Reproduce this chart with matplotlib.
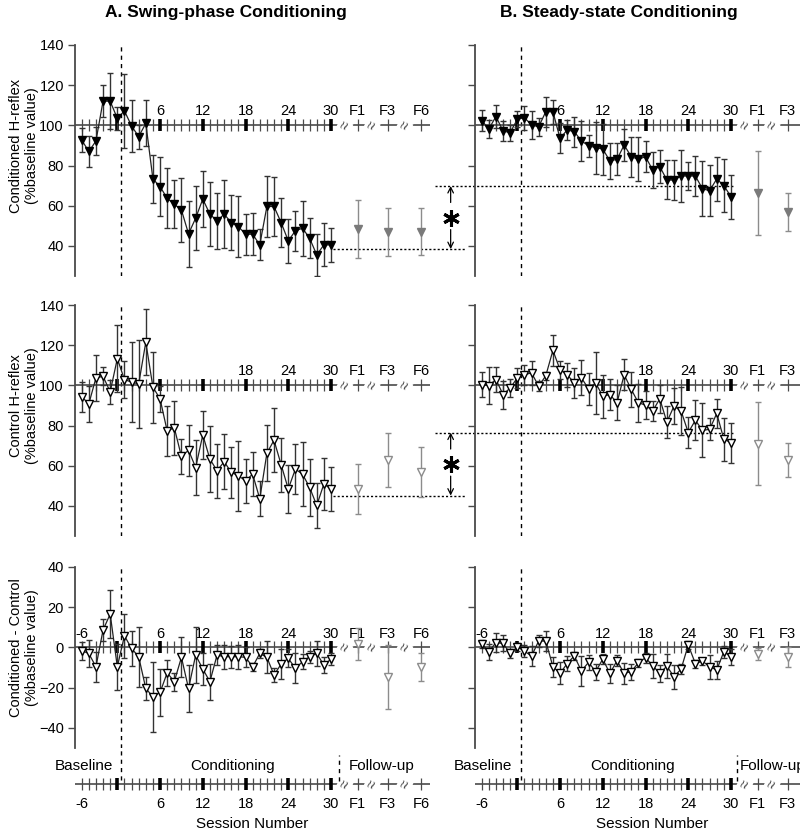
import numpy as np
import matplotlib
matplotlib.use('Agg')
import matplotlib.pyplot as plt

plt.rcParams['font.family'] = ['Liberation Sans', 'DejaVu Sans']

# session labels
base_sessions = [-6, -5, -4, -3, -2, -1]
cond_sessions = list(range(1, 31))
fu_labels = ['F1', 'F3', 'F6']

# A. swing-phase: conditioned H-reflex (% baseline), baseline + 30 sessions
a_cond_mean = [92.7, 87, 92.2, 112.1, 112, 103.5, 107.2, 99.7, 94.4, 101, 73.3, 69.5,
               63.7, 60.7, 57.9, 46, 53.8, 63.3, 55.8, 52.4, 55.8, 51.6, 49.6, 45.8,
               45.8, 40.5, 59.6, 59.6, 51.6, 42.5, 47.5, 48.8, 43.8, 35.5, 40.5, 40.5]
a_cond_err = [6, 7.5, 7, 8, 14, 5.7, 18.5, 13, 6, 11.5, 12, 14.5, 15, 12, 16, 16.5,
              16, 14, 16, 14, 17, 13.7, 15, 10.3, 10.5, 7.7, 15.3, 14.5, 12, 11, 10,
              13.7, 10, 10.5, 10.7, 8.5]
a_cond_fu = [48.5, 47.1, 47.1]
a_cond_fu_err = [14.3, 12, 11.7]

# A. control H-reflex
a_ctrl_mean = [94.3, 90.8, 103.7, 104.5, 96.8, 113.3, 102.9, 101.6, 100.7, 121.5, 99.1,
               93.3, 77.3, 78.9, 64.6, 67.7, 59.1, 75.3, 63.3, 57.5, 62, 56.7, 55, 52.5,
               55.8, 43.5, 66.2, 72.7, 60.5, 48.4, 58.3, 55.8, 49.2, 40.2, 50.9, 48.4]
a_ctrl_err = [7.5, 9, 11.6, 4.5, 6, 16.5, 9, 20, 22, 16.5, 17.6, 6.5, 12.4, 13.5, 8.5,
              12.7, 13.7, 11.8, 16.5, 13.4, 13.6, 12.8, 17.5, 11, 11, 8.7, 14, 16, 13.4,
              11.8, 12.5, 15.8, 14.2, 11, 13, 11]
a_ctrl_fu = [48.4, 62.8, 56.7]
a_ctrl_fu_err = [12.5, 13.6, 12.5]

# A. conditioned - control
a_diff_mean = [-1.6, -3, -9.6, 8.7, 16.6, -9.6, 5.8, -0.5, -4.6, -20.4, -24.5, -22.4,
               -12.6, -17, -4.9, -20.4, -3.8, -10.7, -17, -3.8, -4.6, -4.6, -4.6, -4.9,
               -9.6, -3, -4.9, -13.7, -8.3, -5.4, -10.4, -7.1, -4.6, -3, -8.8, -5.8]
a_diff_err = [4.5, 6.5, 7.5, 5.5, 12, 11.5, 10.8, 8.5, 15, 5.5, 17.5, 11.7, 6.5, 4.5,
              10, 11.6, 14, 8, 9, 5, 6, 5.5, 6, 5, 2, 2, 8, 3.7, 7.5, 4.5, 7.5, 3.7, 3,
              6, 4, 3]
a_diff_fu = [1.7, -14.6, -9.6]
a_diff_fu_err = [8, 16, 7]

# B. steady-state: conditioned H-reflex
b_cond_mean = [102.4, 98.2, 104.4, 97.2, 96.4, 103, 103.8, 100.2, 99.3, 106.8, 106.8,
               93.5, 97.7, 96.9, 92.2, 89.9, 88.9, 88.2, 82.3, 83.1, 90.2, 84.4, 83.1,
               84.4, 77.8, 79.5, 72.8, 72.8, 74.8, 74.8, 74.8, 68.4, 67.5, 73.3, 70, 64.5]
b_cond_err = [5, 4.6, 5.5, 5, 4, 4, 6, 7, 4.4, 7.5, 6, 7.5, 5, 7.5, 10, 5.5, 13, 12.7,
              9, 8, 8, 10, 11, 7.7, 9, 8, 9.7, 10, 13, 7, 10, 13.7, 12.8, 11, 13, 11]
b_cond_fu = [66.2, 56.8]
b_cond_fu_err = [21, 9.5]

# B. control H-reflex
b_ctrl_mean = [100.4, 99.9, 102.9, 95.4, 98.7, 103.7, 105.3, 106.2, 99.6, 104.8, 117.4,
               107.8, 105.3, 101.2, 103.7, 98.3, 101.2, 94.6, 95.4, 91.3, 105.3, 98,
               91.3, 90.2, 87.2, 93.3, 81.7, 89.7, 87.2, 76.5, 82.6, 77.6, 78.1, 86,
               73.2, 71.5]
b_ctrl_err = [6, 9, 6, 7, 4.3, 5, 5, 6, 2.5, 2, 7.7, 4.5, 6, 7.6, 8.7, 8, 15.3, 10.7,
              7.8, 8.7, 7.8, 8.6, 9.6, 7, 5, 7, 8, 8.9, 11.9, 7.8, 10, 13.4, 5.5, 7.4,
              10.7, 10]
b_ctrl_fu = [71, 62.8]
b_ctrl_fu_err = [20.8, 8.4]

# B. conditioned - control
b_diff_mean = [1.7, -2.1, 2.4, 2, -3, 0.3, -1.8, -4.3, 3.2, 3.2, -9.6, -12.9, -8, -4.2,
               -11.7, -7.4, -12, -5.8, -12.9, -6.6, -12.9, -12, -7.6, -5.1, -9.1, -12.9,
               -9.3, -14.6, -10.7, 1.2, -8, -6.8, -9.6, -11.2, -2.1, -4.6]
b_diff_err = [2, 4, 4.8, 4, 2, 2, 3, 5, 3, 5, 5, 5.5, 3.8, 2, 7.5, 3.7, 4, 2.5, 4.7, 2.7,
              5.2, 4, 2, 2.5, 6, 4.2, 6, 6, 2.7, 2, 2, 1.7, 6, 4.5, 3, 4]
b_diff_fu = [-3.4, -4.6]
b_diff_fu_err = [3, 5]

# significance levels (final-session level lines)
a_cond_level, b_cond_level = 38.4, 69.8
a_ctrl_level, b_ctrl_level = 45.1, 76.5

# ---- layout ----
W, H = 800, 832
X_POS = np.array([s + 1 for s in base_sessions] + cond_sessions)  # no session 0
FU_POS = [33.75, 37.96, 42.64]
BREAK_POS = [31.97, 35.8, 40.39]
XLIM_A = (-5.94, 43.9)
XLIM_B = (-5.94, 39.69)
GRAY = '#7a7a7a'
AX_COL = '#4a4a4a'

fig = plt.figure(figsize=(W / 100, H / 100), dpi=100)


def px_axes(left, top, right, bottom):
    return fig.add_axes([left / W, 1 - bottom / H, (right - left) / W, (bottom - top) / H])


def session_axis(ax, y, labels_shown, ylab_off=5, nfu=3, below=False):
    # horizontal session axis with ticks, breaks and labels
    ax.axhline(y, color=AX_COL, lw=1.2, zorder=1)
    thick = [p for p in X_POS if p % 6 == 0]
    thin = [p for p in X_POS if p % 6 != 0] + FU_POS[:nfu]
    ax.plot(thin, [y] * len(thin), ls='none', marker='|', ms=8, mew=0.9,
            color=AX_COL, zorder=1, clip_on=False)
    ax.plot(thick, [y] * len(thick), ls='none', marker='|', ms=9, mew=2.6,
            color='black', zorder=1, clip_on=False)
    for bp in BREAK_POS[:nfu]:
        ax.text(bp, y, '\u2248', rotation=65, ha='center', va='center', fontsize=10.5,
                color=AX_COL, zorder=1,
                bbox=dict(fc='white', ec='none', pad=0.2))
    names = {-5: '-6'}
    for p in cond_sessions:
        if p % 6 == 0:
            names[p] = str(p)
    for fp, fl in zip(FU_POS[:nfu], fu_labels):
        names[fp] = fl
    for p, lab in names.items():
        if lab not in labels_shown:
            continue
        if below:
            ax.annotate(lab, (p, y), xytext=(0, -9), textcoords='offset points',
                        ha='center', va='top', fontsize=10.5, zorder=0.5,
                        annotation_clip=False)
        else:
            ax.annotate(lab, (p, y), xytext=(0, ylab_off), textcoords='offset points',
                        ha='center', va='bottom', fontsize=10.5, zorder=0.5,
                        annotation_clip=False)


def panel(rect, xlim, ylim, yticks, mean, err, fu, fu_err, filled, ref, labels,
          show_ylabels):
    ax = px_axes(*rect)
    ax.set_xlim(*xlim)
    ax.set_ylim(*ylim)
    for s in ['top', 'right', 'bottom']:
        ax.spines[s].set_visible(False)
    ax.spines['left'].set_color(AX_COL)
    ax.spines['left'].set_linewidth(1.3)
    ax.set_xticks([])
    ax.set_yticks(yticks)
    ax.tick_params(axis='y', direction='out', length=5, width=1, color=AX_COL,
                   labelsize=10.5, labelleft=show_ylabels, pad=3)
    ax.patch.set_alpha(0)
    ax.axvline(0.5, color='black', lw=1, ls=(0, (3, 3)), zorder=1)
    session_axis(ax, ref, labels, nfu=len(fu))
    ax.errorbar(X_POS, mean, yerr=err, color='#222222', lw=0.9, ecolor='#333333',
                elinewidth=1, capsize=2.5, capthick=1, marker='v', ms=6.3,
                mfc='black' if filled else 'white', mec='black', mew=1, zorder=3)
    ax.errorbar(FU_POS[:len(fu)], fu, yerr=fu_err, ls='none', ecolor='#8c8c8c',
                elinewidth=1, capsize=2.5, capthick=1, marker='v', ms=6.3,
                mfc=GRAY if filled else 'white', mec=GRAY if filled else '#8c8c8c',
                mew=1, zorder=3, clip_on=False)
    return ax


hr_ticks = [40, 60, 80, 100, 120, 140]
diff_ticks = [-40, -20, 0, 20, 40]
colA, colB = (75, 430), (475, 800)

axA1 = panel((colA[0], 45, colA[1], 276), XLIM_A, (25, 140), hr_ticks, a_cond_mean,
             a_cond_err, a_cond_fu, a_cond_fu_err, True, 100,
             ['6', '12', '18', '24', '30', 'F1', 'F3', 'F6'], True)
axB1 = panel((colB[0], 45, colB[1], 276), XLIM_B, (25, 140), hr_ticks, b_cond_mean,
             b_cond_err, b_cond_fu, b_cond_fu_err, True, 100,
             ['6', '12', '18', '24', '30', 'F1', 'F3'], False)
axA2 = panel((colA[0], 305, colA[1], 536), XLIM_A, (25, 140), hr_ticks, a_ctrl_mean,
             a_ctrl_err, a_ctrl_fu, a_ctrl_fu_err, False, 100,
             ['18', '24', '30', 'F1', 'F3', 'F6'], True)
axB2 = panel((colB[0], 305, colB[1], 536), XLIM_B, (25, 140), hr_ticks, b_ctrl_mean,
             b_ctrl_err, b_ctrl_fu, b_ctrl_fu_err, False, 100,
             ['18', '24', '30', 'F1', 'F3'], False)
axA3 = panel((colA[0], 567, colA[1], 748), XLIM_A, (-50, 40), diff_ticks, a_diff_mean,
             a_diff_err, a_diff_fu, a_diff_fu_err, False, 0,
             ['-6', '6', '12', '18', '24', '30', 'F1', 'F3', 'F6'], True)
axB3 = panel((colB[0], 567, colB[1], 748), XLIM_B, (-50, 40), diff_ticks, b_diff_mean,
             b_diff_err, b_diff_fu, b_diff_fu_err, False, 0,
             ['-6', '6', '12', '18', '24', '30', 'F1', 'F3'], False)


def significance(axA, axB, lvA, lvB):
    axA.plot([30.3, 48.8], [lvA, lvA], ls=(0, (1.5, 1.5)), color='black', lw=1,
             clip_on=False, zorder=2)
    axB.plot([-11.55, 30.56], [lvB, lvB], ls=(0, (1.5, 1.5)), color='black', lw=1,
             clip_on=False, zorder=2)
    xa = 46.8
    mid = (lvA + lvB) / 2
    axA.annotate('', xy=(xa, lvB), xytext=(xa, mid + 7.5),
                 arrowprops=dict(arrowstyle='->', lw=0.9, shrinkA=0, shrinkB=0),
                 annotation_clip=False)
    axA.annotate('', xy=(xa, lvA), xytext=(xa, mid - 6),
                 arrowprops=dict(arrowstyle='->', lw=0.9, shrinkA=0, shrinkB=0),
                 annotation_clip=False)
    axA.plot([xa], [mid], marker=(6, 2, 0), ms=12, mew=2.2, color='black',
             clip_on=False, zorder=4)


significance(axA1, axB1, a_cond_level, b_cond_level)
significance(axA2, axB2, a_ctrl_level, b_ctrl_level)

# bottom session strips
strips = [(colA, XLIM_A, 3, 31.1, -4.7, 37.1, 'center'),
          (colB, XLIM_B, 2, 30.9, -4.8, 31.3, 'left')]
for (l, r), xl, nfu, fu_sep, bx, fx, fha in strips:
    ax = px_axes(l, 750, r, 832)
    ax.set_xlim(*xl)
    ax.set_ylim(0, 1)
    ax.axis('off')
    ax.patch.set_alpha(0)
    session_axis(ax, 0.585, ['-6', '6', '12', '18', '24', '30', 'F1', 'F3', 'F6'],
                 nfu=nfu, below=True)
    ax.plot([0.5, 0.5], [0.64, 1.02], color='black', lw=1, ls=(0, (3, 3)),
            clip_on=False)
    ax.plot([fu_sep, fu_sep], [0.62, 0.94], color='black', lw=1, ls=(0, (3, 3)),
            clip_on=False)
    ax.text(bx, 0.8, 'Baseline', ha='center', va='center', fontsize=11)
    ax.text(16.2, 0.8, 'Conditioning', ha='center', va='center', fontsize=11)
    ax.text(fx, 0.8, 'Follow-up', ha=fha, va='center', fontsize=11, clip_on=False)
    ax.text(19.0, 0.095, 'Session Number', ha='center', va='center', fontsize=11)

# titles and y labels
fig.text(226 / W, 1 - 13 / H, 'A. Swing-phase Conditioning', ha='center', va='center',
         fontsize=12.5, fontweight='bold')
fig.text(619 / W, 1 - 13 / H, 'B. Steady-state Conditioning', ha='center', va='center',
         fontsize=12.5, fontweight='bold')
ylabels = ['Conditioned H-reflex\n(%baseline value)', 'Control H-reflex\n(%baseline value)',
           'Conditioned - Control\n(%baseline value)']
for lab, yc in zip(ylabels, [145.5, 406, 647.5]):
    fig.text(24 / W, 1 - yc / H, lab, rotation=90, ha='center', va='center',
             fontsize=10.5, linespacing=1.2, multialignment='center')

fig.savefig('out.png', dpi=100)
